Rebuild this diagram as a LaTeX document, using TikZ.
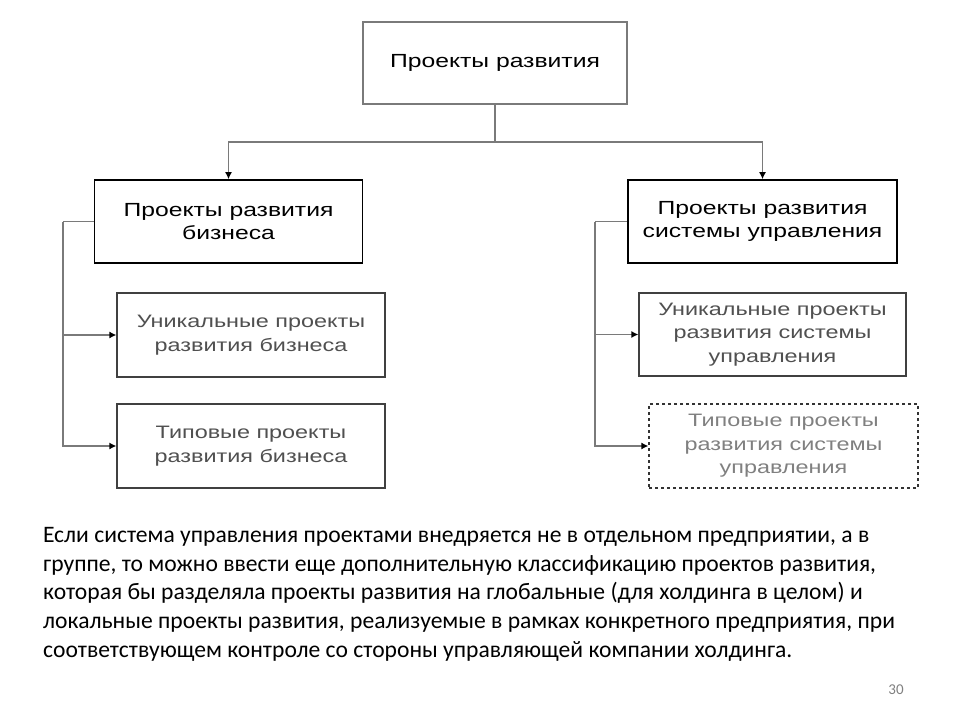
\documentclass[tikz,border=0pt]{standalone}
\usepackage{fontspec}
\setmainfont{Carlito}
\newfontfamily\diagfont[FakeStretch=1.3]{Liberation Sans}
\usetikzlibrary{arrows.meta}
\definecolor{linegray}{HTML}{7A7A7A}
\definecolor{subgray}{HTML}{505050}
\tikzset{
  every node/.style={inner sep=0pt, align=center},
  topbox/.style={draw=linegray, line width=1.3pt, minimum width=264pt, minimum height=82pt,
    font=\diagfont\fontsize{19}{23}\selectfont},
  mainbox/.style={draw=black, line width=1.6pt, minimum width=268pt, minimum height=83pt,
    font=\diagfont\fontsize{19}{23}\selectfont},
  subbox/.style={draw=black!75, line width=1.2pt, minimum width=268pt, minimum height=84pt,
    text=subgray, font=\diagfont\fontsize{18}{23.5}\selectfont},
  link/.style={draw=linegray, line width=1.4pt},
}
\begin{document}
\begin{tikzpicture}[x=1pt, y=-1pt, >={Latex[length=7pt,width=7pt,color=black]}]
  \useasboundingbox[fill=white] (0,0) rectangle (960,720);
  % diagram
  \node[topbox] (dev) at (495,63) {Проекты развития};
  \node[mainbox] (biz) at (228.5,221.5) {Проекты развития\\бизнеса};
  \node[mainbox, minimum width=269pt] (sys) at (762.5,221.5) {Проекты развития\\системы управления};
  \node[subbox] (uniqb) at (251,335) {Уникальные проекты\\развития бизнеса};
  \node[subbox] (typb) at (251,446) {Типовые проекты\\развития бизнеса};
  \node[subbox, minimum width=267pt, minimum height=83pt] (uniqs) at (772.5,334.5) {Уникальные проекты\\развития системы\\управления};
  \node[subbox, draw=black!80, dashed, text=gray, minimum width=269pt] (typs) at (783.5,446) {Типовые проекты\\развития системы\\управления};
  \coordinate (split) at (495,142);
  \coordinate (bizbus) at (63,221.5);
  \coordinate (sysbus) at (595,221.5);
  \draw[link] (dev) -- (split);
  \draw[link, ->] (split) -| (biz);
  \draw[link, ->] (split) -| (sys);
  \draw[link] (biz) -- (bizbus);
  \draw[link, ->] (bizbus) |- (uniqb);
  \draw[link, ->] (bizbus) |- (typb);
  \draw[link] (sys) -- (sysbus);
  \draw[link, ->] (sysbus) |- (uniqs);
  \draw[link, ->] (sysbus) |- (typs);
  % text below
  \node[anchor=north west, align=left, font=\fontsize{23.6}{28.7}\selectfont] (note) at (43,527)
    {Если система управления проектами внедряется не в отдельном предприятии, а в\\
     группе, то можно ввести еще дополнительную классификацию проектов развития,\\
     которая бы разделяла проекты развития на глобальные (для холдинга в целом) и\\
     локальные проекты развития, реализуемые в рамках конкретного предприятия, при\\
     соответствующем контроле со стороны управляющей компании холдинга.};
  \node[text=gray, font=\fontsize{15}{18}\selectfont] (page) at (896,690) {30};
\end{tikzpicture}
\end{document}
